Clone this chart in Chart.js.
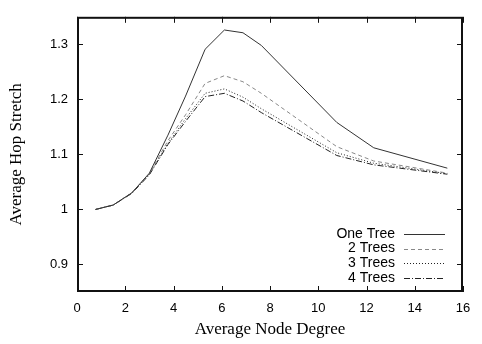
<!DOCTYPE html>
<html>
<head>
<meta charset="utf-8">
<script src="https://cdn.jsdelivr.net/npm/chart.js@4"></script>
<style>
  html, body { margin: 0; padding: 0; background: #fff; }
  #wrap { width: 482px; height: 344px; }
</style>
</head>
<body>
<div id="wrap"><canvas id="stretch"></canvas></div>
<script>
// node degree (x) for each sample
var degree = [0.77, 1.5, 2.27, 3.0, 3.77, 4.5, 5.31, 6.11, 6.88, 7.64, 10.77, 12.3, 15.35];
var oneTree   = [1.0, 1.008, 1.03, 1.066, 1.135, 1.206, 1.291, 1.326, 1.321, 1.298, 1.158, 1.112, 1.075];
var twoTrees  = [1.0, 1.008, 1.03, 1.065, 1.125, 1.172, 1.229, 1.243, 1.232, 1.211, 1.114, 1.088, 1.066];
var threeTrees = [1.0, 1.008, 1.03, 1.064, 1.12, 1.165, 1.211, 1.219, 1.204, 1.183, 1.103, 1.084, 1.065];
var fourTrees = [1.0, 1.008, 1.029, 1.063, 1.118, 1.16, 1.205, 1.211, 1.197, 1.176, 1.098, 1.081, 1.064];
var seriesNames = ["One Tree", "2 Trees", "3 Trees", "4 Trees"];
var xTicks = [0, 2, 4, 6, 8, 10, 12, 14, 16];
var yTicks = [0.9, 1, 1.1, 1.2, 1.3];

function pts(ys) {
  return degree.map(function (d, i) { return { x: d, y: ys[i] }; });
}

var styles = [
  { color: "#333", dash: [] },
  { color: "#888", dash: [4, 3] },
  { color: "#222", dash: [1, 2] },
  { color: "#222", dash: [6, 2, 1, 2] }
];
var values = [oneTree, twoTrees, threeTrees, fourTrees];

// gnuplot style: inward ticks on all four sides + legend with text on the left
var gnuplotBits = {
  id: "gnuplotBits",
  afterDraw: function (chart) {
    var c = chart.ctx, a = chart.chartArea;
    var sx = chart.scales.x, sy = chart.scales.y;
    c.save();
    c.strokeStyle = "#111";
    c.lineWidth = 1;
    c.beginPath();
    xTicks.forEach(function (t) {
      var px = Math.round(sx.getPixelForValue(t)) + 0.5;
      c.moveTo(px, a.bottom); c.lineTo(px, a.bottom - 6);
      c.moveTo(px, a.top); c.lineTo(px, a.top + 6);
    });
    yTicks.forEach(function (t) {
      var py = Math.round(sy.getPixelForValue(t)) + 0.5;
      c.moveTo(a.left, py); c.lineTo(a.left + 6, py);
      c.moveTo(a.right, py); c.lineTo(a.right - 6, py);
    });
    c.stroke();
    c.lineWidth = 2;
    c.strokeRect(a.left + 1, a.top + 1, a.right - a.left - 2, a.bottom - a.top - 2);

    // legend
    c.lineWidth = 1;
    c.font = "14px 'Liberation Sans', Arial, sans-serif";
    c.textAlign = "right";
    c.textBaseline = "middle";
    c.fillStyle = "#000";
    seriesNames.forEach(function (name, i) {
      var y = a.bottom - 58 + i * 14.6;
      c.fillText(name, a.right - 68, y);
      c.beginPath();
      c.strokeStyle = styles[i].color;
      c.setLineDash(styles[i].dash);
      c.moveTo(a.right - 59, Math.round(y) + 0.5);
      c.lineTo(a.right - 18, Math.round(y) + 0.5);
      c.stroke();
      c.setLineDash([]);
    });
    c.restore();
  }
};

new Chart(document.getElementById("stretch"), {
  type: "line",
  data: {
    datasets: seriesNames.map(function (n, i) {
      return {
        label: n,
        data: pts(values[i]),
        borderColor: styles[i].color,
        borderDash: styles[i].dash,
        borderWidth: 1,
        pointRadius: 0,
        tension: 0,
        fill: false
      };
    })
  },
  options: {
    responsive: true,
    maintainAspectRatio: false,
    animation: false,
    layout: { padding: { top: 13, right: 19, left: 0, bottom: 0 } },
    plugins: { legend: { display: false }, tooltip: { enabled: false } },
    scales: {
      x: {
        type: "linear",
        min: 0, max: 16,
        afterBuildTicks: function (s) { s.ticks = xTicks.map(function (v) { return { value: v }; }); },
        afterFit: function (s) { s.height = 52; },
        grid: { display: false, drawTicks: false },
        border: { display: false },
        ticks: { padding: 9, color: "#000", font: { family: "'Liberation Sans', Arial, sans-serif", size: 13 } },
        title: {
          display: true, text: "Average Node Degree", color: "#000",
          font: { family: "'Liberation Serif', 'Times New Roman', serif", size: 17 },
          padding: { top: 2, bottom: 4 }
        }
      },
      y: {
        min: 0.85, max: 1.35,
        afterBuildTicks: function (s) { s.ticks = yTicks.map(function (v) { return { value: v }; }); },
        afterFit: function (s) { s.width = 77; },
        grid: { display: false, drawTicks: false },
        border: { display: false },
        ticks: {
          padding: 9, color: "#000",
          font: { family: "'Liberation Sans', Arial, sans-serif", size: 13 },
          callback: function (v) { return String(Math.round(v * 10) / 10); }
        },
        title: {
          display: true, text: "Average Hop Stretch", color: "#000",
          font: { family: "'Liberation Serif', 'Times New Roman', serif", size: 17 },
          padding: { top: 6, bottom: 0 }
        }
      }
    }
  },
  plugins: [gnuplotBits]
});
</script>
</body>
</html>
